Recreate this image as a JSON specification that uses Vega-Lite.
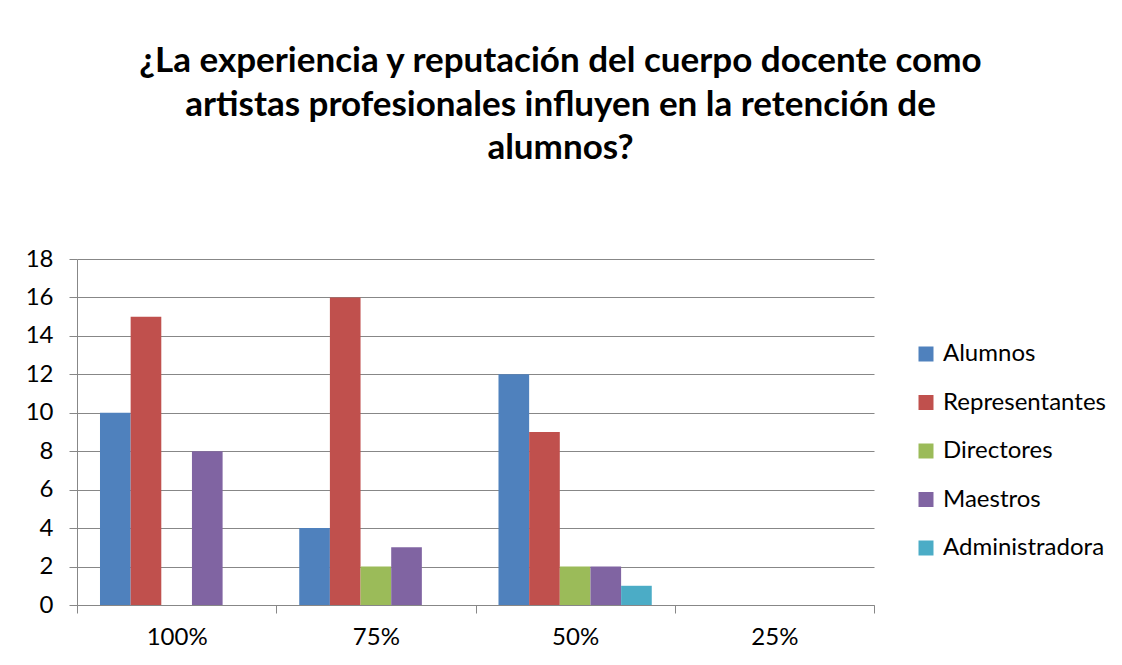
{
  "$schema": "https://vega.github.io/schema/vega-lite/v6.json",
  "width": 797,
  "height": 346,
  "autosize": {"type": "none"},
  "padding": {"left": 77, "top": 259, "right": 248, "bottom": 60},
  "background": "white",
  "title": {
    "text": ["¿La experiencia y reputación del cuerpo docente como", "artistas profesionales influyen en la retención de", "alumnos?"],
    "font": "Lato",
    "fontSize": 35,
    "fontWeight": "bold",
    "lineHeight": 43.5,
    "color": "#000000",
    "anchor": "middle",
    "dx": 85,
    "offset": 81
  },
  "data": {
    "values": [
      {"cat": "100%", "serie": "Alumnos", "valor": 10},
      {"cat": "100%", "serie": "Representantes", "valor": 15},
      {"cat": "100%", "serie": "Directores", "valor": 0},
      {"cat": "100%", "serie": "Maestros", "valor": 8},
      {"cat": "100%", "serie": "Administradora", "valor": 0},
      {"cat": "75%", "serie": "Alumnos", "valor": 4},
      {"cat": "75%", "serie": "Representantes", "valor": 16},
      {"cat": "75%", "serie": "Directores", "valor": 2},
      {"cat": "75%", "serie": "Maestros", "valor": 3},
      {"cat": "75%", "serie": "Administradora", "valor": 0},
      {"cat": "50%", "serie": "Alumnos", "valor": 12},
      {"cat": "50%", "serie": "Representantes", "valor": 9},
      {"cat": "50%", "serie": "Directores", "valor": 2},
      {"cat": "50%", "serie": "Maestros", "valor": 2},
      {"cat": "50%", "serie": "Administradora", "valor": 1},
      {"cat": "25%", "serie": "Alumnos", "valor": 0},
      {"cat": "25%", "serie": "Representantes", "valor": 0},
      {"cat": "25%", "serie": "Directores", "valor": 0},
      {"cat": "25%", "serie": "Maestros", "valor": 0},
      {"cat": "25%", "serie": "Administradora", "valor": 0}
    ]
  },
  "mark": {"type": "bar"},
  "encoding": {
    "x": {
      "field": "cat",
      "type": "nominal",
      "sort": ["100%", "75%", "50%", "25%"],
      "scale": {"paddingInner": 0, "paddingOuter": 0},
      "axis": {
        "title": null,
        "labelAngle": 0,
        "tickBand": "extent",
        "domainColor": "#878787",
        "tickColor": "#878787",
        "tickSize": 8,
        "labelFont": "Lato",
        "labelFontSize": 24,
        "labelColor": "#000000",
        "labelPadding": 12,
        "grid": false
      }
    },
    "xOffset": {
      "field": "serie",
      "type": "nominal",
      "sort": ["Alumnos", "Representantes", "Directores", "Maestros", "Administradora"],
      "scale": {"paddingInner": 0, "paddingOuter": 0.75}
    },
    "y": {
      "field": "valor",
      "type": "quantitative",
      "scale": {"domain": [0, 18], "nice": false},
      "axis": {
        "title": null,
        "values": [0, 2, 4, 6, 8, 10, 12, 14, 16, 18],
        "domainColor": "#878787",
        "tickColor": "#878787",
        "gridColor": "#878787",
        "tickSize": 8,
        "labelFont": "Lato",
        "labelFontSize": 24,
        "labelColor": "#000000",
        "labelPadding": 16
      }
    },
    "color": {
      "field": "serie",
      "type": "nominal",
      "sort": ["Alumnos", "Representantes", "Directores", "Maestros", "Administradora"],
      "scale": {
        "domain": ["Alumnos", "Representantes", "Directores", "Maestros", "Administradora"],
        "range": ["#4F81BD", "#C0504D", "#9BBB59", "#8064A2", "#4BACC6"]
      },
      "legend": {
        "title": null,
        "orient": "none",
        "legendX": 837,
        "legendY": 83,
        "padding": 0,
        "symbolType": "square",
        "symbolSize": 225,
        "symbolStrokeWidth": 0,
        "labelFont": "Lato",
        "labelFontSize": 24,
        "labelColor": "#000000",
        "labelOffset": 5,
        "labelLimit": 400,
        "rowPadding": 24.5
      }
    }
  },
  "config": {
    "view": {"stroke": null},
    "axis": {"gridWidth": 1, "domainWidth": 1, "tickWidth": 1}
  }
}
